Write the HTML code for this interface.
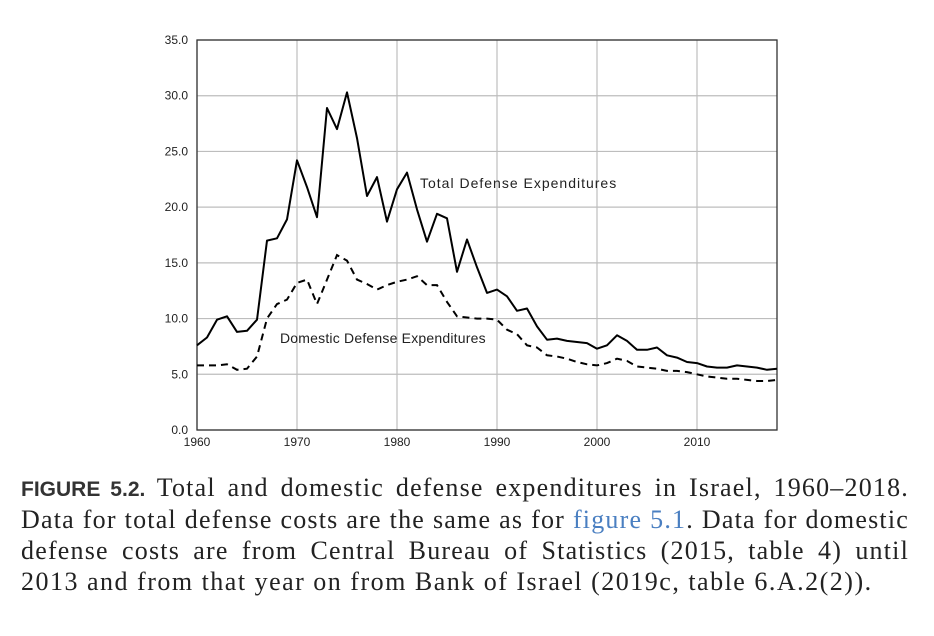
<!DOCTYPE html>
<html><head><meta charset="utf-8"><style>
html,body{margin:0;padding:0;background:#fff;width:934px;height:636px;overflow:hidden}
.cap{position:absolute;left:21px;width:888px;font-family:"Liberation Serif",serif;font-size:26px;letter-spacing:1.2px;color:#222;text-align:justify;text-align-last:justify;white-space:nowrap}
.cap.l{text-align-last:left;letter-spacing:1.5px}
.fig{font-family:"Liberation Sans",sans-serif;font-weight:bold;font-size:21px;letter-spacing:0;color:#333}
a{color:#4a7fc1;text-decoration:none}
</style></head><body>
<svg id="chart" width="934" height="470" style="position:absolute;left:0;top:0" font-family="Liberation Sans, sans-serif"></svg>
<div class="cap" style="top:473px"><span class="fig">FIGURE 5.2.</span> Total and domestic defense expenditures in Israel, 1960–2018.</div>
<div class="cap" style="top:505px">Data for total defense costs are the same as for <a>figure 5.1</a>. Data for domestic</div>
<div class="cap" style="top:536px">defense costs are from Central Bureau of Statistics (2015, table 4) until</div>
<div class="cap l" style="top:567px">2013 and from that year on from Bank of Israel (2019c, table 6.A.2(2)).</div>
<script>
const years = [];
for (let y = 1960; y <= 2018; y++) years.push(y);
const totalValues = [7.6,8.3,9.9,10.2,8.8,8.9,9.9,17.0,17.2,18.9,24.2,21.8,19.1,28.9,27.0,30.3,26.2,21.0,22.7,18.7,21.6,23.1,19.8,16.9,19.4,19.0,14.2,17.1,14.6,12.3,12.6,12.0,10.7,10.9,9.3,8.1,8.2,8.0,7.9,7.8,7.3,7.6,8.5,8.0,7.2,7.2,7.4,6.7,6.5,6.1,6.0,5.7,5.6,5.6,5.8,5.7,5.6,5.4,5.5];
const domesticValues = [5.8,5.8,5.8,5.9,5.4,5.5,6.6,10.0,11.3,11.7,13.2,13.5,11.3,13.5,15.7,15.2,13.5,13.1,12.6,13.0,13.3,13.5,13.8,13.0,13.0,11.5,10.2,10.1,10.0,10.0,9.9,9.0,8.6,7.6,7.4,6.7,6.6,6.4,6.1,5.9,5.8,6.0,6.4,6.2,5.7,5.6,5.5,5.3,5.3,5.2,5.0,4.8,4.7,4.6,4.6,4.5,4.4,4.4,4.5];
const yTicks = [0,5,10,15,20,25,30,35];
const xTicks = [1960,1970,1980,1990,2000,2010];
const NS = "http://www.w3.org/2000/svg";
const svg = document.getElementById('chart');
const L=197,R=777,T=40,B=430;
const x = v => L + (v-1960)/(2018-1960)*(R-L);
const y = v => B - v/35*(B-T);
function el(tag, attrs, parent){const e=document.createElementNS(NS,tag);for(const k in attrs)e.setAttribute(k,attrs[k]);(parent||svg).appendChild(e);return e;}
yTicks.forEach(t=>{
  const g=el('line',{x1:L,x2:R,y1:y(t),y2:y(t),stroke:'#bdbdbd','stroke-width':1.2});
  
  
  const tx=el('text',{x:L-9,y:y(t)+4,'text-anchor':'end','font-size':12,fill:'#222'});
  tx.textContent=t.toFixed(1);
  
  
});
xTicks.forEach(t=>{
  const g=el('line',{x1:x(t),x2:x(t),y1:T,y2:B,stroke:'#bdbdbd','stroke-width':1.2});
  
  
  const tx=el('text',{x:x(t),y:B+16,'text-anchor':'middle','font-size':12,fill:'#222'});
  tx.textContent=t;
  
  
});
const frame=el('rect',{x:L,y:T,width:R-L,height:B-T,fill:'none',stroke:'#333','stroke-width':1.3});


const pts = arr => arr.map((v,i)=>x(years[i]).toFixed(1)+','+y(v).toFixed(1)).join(' ');
const lt=el('polyline',{points:pts(totalValues),fill:'none',stroke:'#000','stroke-width':2,'stroke-linejoin':'round'});


const ld=el('polyline',{points:pts(domesticValues),fill:'none',stroke:'#000','stroke-width':2,'stroke-dasharray':'7,5'});


const a1=el('text',{x:420,y:188,'font-size':14,'letter-spacing':1,fill:'#222'});
a1.textContent='Total Defense Expenditures';


const a2=el('text',{x:280,y:343,'font-size':14,'letter-spacing':0.2,fill:'#222'});
a2.textContent='Domestic Defense Expenditures';


</script>
</body></html>
